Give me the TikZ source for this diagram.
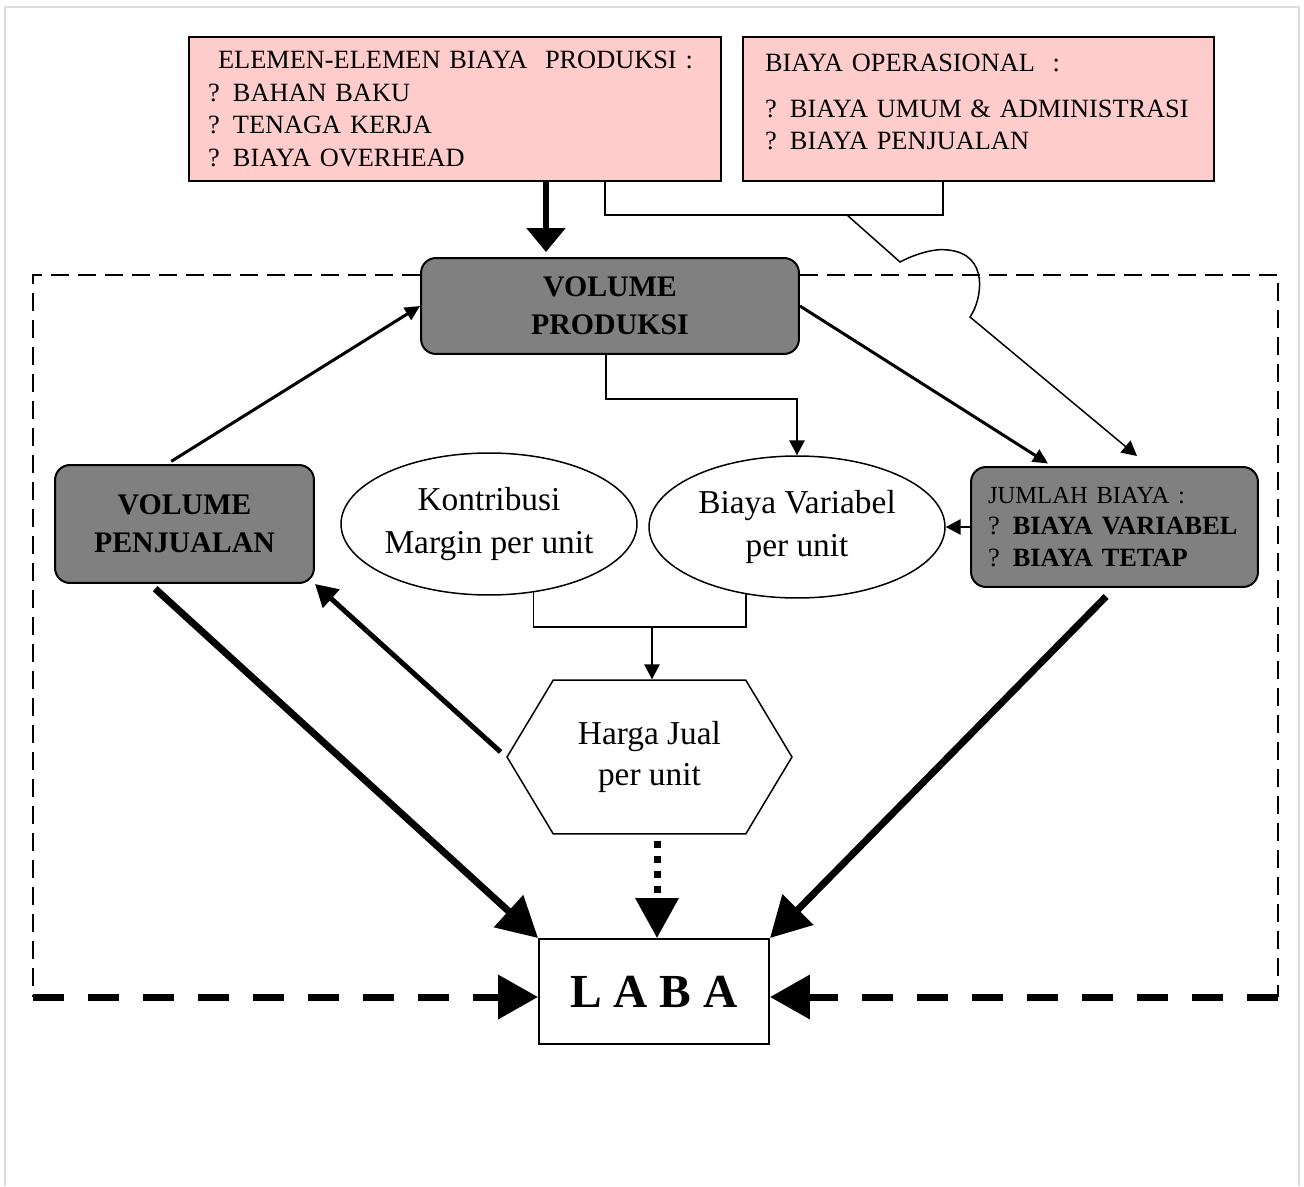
\documentclass[tikz,border=0pt]{standalone}
\usepackage{fontspec}
\setmainfont{Liberation Serif}
\usetikzlibrary{arrows.meta,shapes.geometric,shapes.symbols}
\definecolor{costpink}{HTML}{FFCCCC}
\definecolor{boxgray}{HTML}{808080}
\definecolor{pagegray}{HTML}{DDDDDD}

\begin{document}
\begin{tikzpicture}[x=0.02cm,y=-0.02cm,
		pk/.style={draw,line width=0.5mm,fill=costpink,minimum height=2.88cm,inner sep=0pt,
				align=left,font=\fontsize{15}{18.7}\selectfont},
		gb/.style={draw,line width=0.4mm,fill=boxgray,rounded corners=3mm,inner sep=0pt,align=center,
				font=\fontsize{17}{21.5}\selectfont\bfseries},
		ov/.style={draw,ellipse,line width=0.3mm,minimum width=5.92cm,minimum height=2.84cm,inner sep=0pt,
				align=center,font=\fontsize{19}{24}\selectfont},
		ln/.style={line width=0.35mm},
		ta/.style={line width=0.3mm,-{Triangle[length=3mm,width=3.1mm]}},
		ma/.style={line width=0.6mm,-{Triangle[length=3mm,width=2.8mm]}},
		fa/.style={line width=1.4mm,-{Triangle[length=8mm,width=8.4mm]}},
		fr/.style={line width=0.4mm,dash pattern=on 3.6mm off 1.8mm},
		fd/.style={line width=1.4mm,dash pattern=on 6.2mm off 4.8mm,-{Triangle[length=8mm,width=8.6mm]}}
		]
		\useasboundingbox (0,0) rectangle (1304,1186);
		\draw[pagegray,line width=0.4mm] (5,1186) -- (5,7) -- (1299,7) -- (1299,1186);

		% cost boxes
		\node[pk,minimum width=10.64cm,text width=9.88cm] (ep) at (455,109)
			{\hspace*{2mm}ELEMEN-ELEMEN BIAYA~~PRODUKSI~:\\? BAHAN BAKU\\? TENAGA KERJA\\? BIAYA OVERHEAD};
		\node[pk,minimum width=9.42cm,text width=8.54cm] (op) at (978.5,109)
			{BIAYA OPERASIONAL~~:\\[7pt]? BIAYA UMUM \& ADMINISTRASI\\? BIAYA PENJUALAN\\[-11pt]\mbox{}};

		\node[gb,minimum width=7.56cm,minimum height=1.92cm] (vp) at (610,306) {VOLUME\\PRODUKSI};
		\node[gb,minimum width=5.18cm,minimum height=2.36cm] (vpj) at (184.5,524) {VOLUME\\PENJUALAN};
		\node[gb,minimum width=5.74cm,minimum height=2.4cm,text width=5.06cm,align=left,
			font=\fontsize{15}{18}\selectfont] (jb) at (1114.5,527)
			{{\fontsize{14}{18}\selectfont JUMLAH BIAYA :}\\? \textbf{BIAYA VARIABEL}\\? \textbf{BIAYA TETAP}};

		\node[ov] (km) at (489,524) {Kontribusi\\Margin per unit};
		\node[ov] (bv) at (797,527) {Biaya Variabel\\per unit};
		\node[draw,signal,signal to=west and east,signal pointer angle=118,line width=0.3mm,
			minimum width=5.7cm,minimum height=3.08cm,inner sep=0pt,align=center,
			font=\fontsize{19}{23.5}\selectfont] (hj) at (649.5,757) {Harga Jual\\per unit};
		\node[draw,line width=0.4mm,minimum width=4.6cm,minimum height=2.1cm,
			font=\fontsize{27}{30}\selectfont\bfseries] (laba) at (654,991.5) {L A B A};

		\coordinate (opj) at (847,215);
		\coordinate (kvb) at (652,627);
		\coordinate (ftl) at (33,275);
		\coordinate (fbl) at (33,997);
		\coordinate (ftr) at (1278,275);
		\coordinate (fbr) at (1278,997);

		% dashed frame
		\draw[fr] (vp.west |- ftl) -- (ftl) -- (fbl);
		\draw[fr] (vp.east |- ftr) -- (ftr) -- (fbr);
		\draw[fd] (fbl) -- (fbl -| laba.west);
		\draw[fd] (fbr) -- (fbr -| laba.east);

		\draw[line width=1.1mm,-{Triangle[length=4.8mm,width=7.6mm]}] ([xshift=1.82cm]ep.south) -- ([xshift=1.82cm,yshift=1mm]ep.south |- vp.north);
		\draw[ln] ([xshift=3cm]ep.south) |- (opj) -| ([xshift=-0.71cm]op.south);
		\draw[ta] (opj) -- (900,262) .. controls (915,254) and (935,248) .. (948,250)
			.. controls (990,254) and (982,300) .. (970,317) -- ([xshift=0.45cm,yshift=2mm]jb.north);

		\draw[ma,shorten <=1mm] ([xshift=-0.35cm]vpj.north) -- (vp.west);
		\draw[ma] (vp.east) -- ([xshift=-1.33cm,yshift=0.5mm]jb.north);
		\draw[ta] ([xshift=-0.08cm]vp.south) -- ++(0,44) -| (bv.north);
		\draw[ta] (jb.west) -- (bv.east);
		\draw[ln] (km.-57) |- (kvb) -| (bv.-127);
		\draw[ta] (kvb) -- (kvb |- hj.north);

		\draw[line width=1mm,-{Triangle[length=4.4mm,width=4.8mm]},shorten <=1.5mm] (hj.west) -- (vpj.south east);
		\draw[fa,shorten <=1.4mm] ([xshift=-0.69cm]vpj.south) -- (laba.north west);
		\draw[fa,shorten <=2.4mm] (jb.south) -- (laba.north east);
		\draw[fa,dash pattern=on 1.4mm off 1.6mm,shorten <=1.2mm] ([xshift=1.5mm]hj.south) -- ([xshift=1.5mm]hj.south |- laba.north);
	\end{tikzpicture}
\end{document}
